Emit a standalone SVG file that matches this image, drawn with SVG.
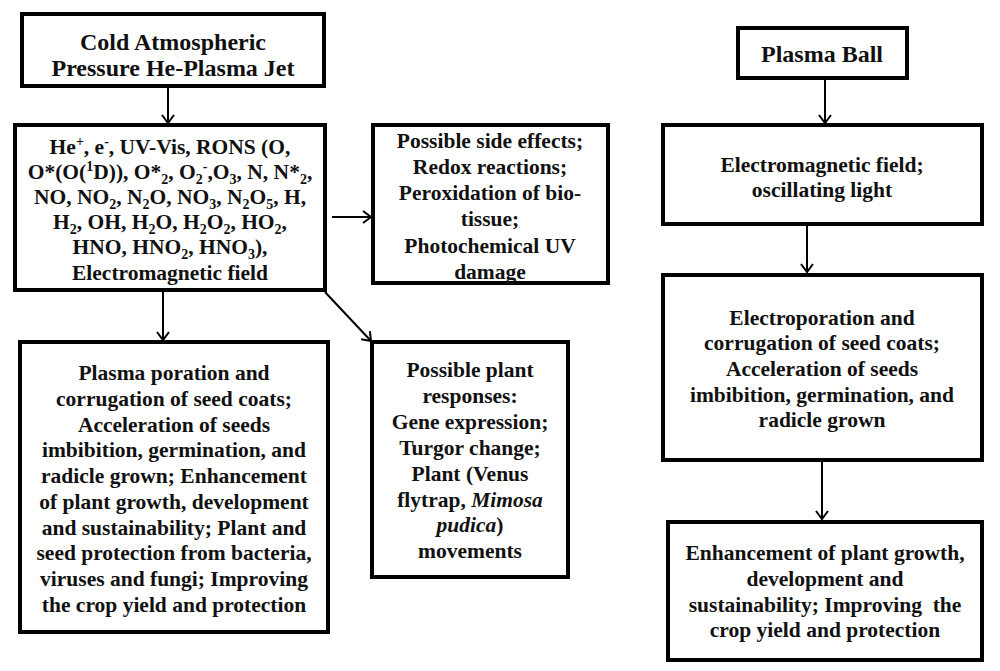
<svg xmlns="http://www.w3.org/2000/svg" width="1000" height="671" viewBox="0 0 1000 671">
<style>
.box{fill:#fff;stroke:#000;stroke-width:4}
.t{font-family:"Liberation Serif","Times New Roman",serif;font-weight:bold;font-size:21.5px;fill:#111;text-anchor:middle}
.h{font-size:24px}
.s{font-size:14px}
.c{stroke:#000;stroke-width:2;fill:none}
</style>
<defs>
<marker id="ah" markerUnits="userSpaceOnUse" markerWidth="14" markerHeight="14" refX="11" refY="7" orient="auto">
<path d="M3,1 L11,7 L3,13" fill="none" stroke="#000" stroke-width="2"/>
</marker>
</defs>
<rect width="1000" height="671" fill="#fff"/>
<g id="connectors">
<line class="c" x1="168" y1="87" x2="168" y2="123" marker-end="url(#ah)"/>
<line class="c" x1="332" y1="217" x2="371" y2="217" marker-end="url(#ah)"/>
<line class="c" x1="163" y1="291" x2="163" y2="340" marker-end="url(#ah)"/>
<line class="c" x1="325" y1="292" x2="371" y2="341" marker-end="url(#ah)"/>
<line class="c" x1="825" y1="79" x2="825" y2="123" marker-end="url(#ah)"/>
<line class="c" x1="807" y1="225" x2="807" y2="272" marker-end="url(#ah)"/>
<line class="c" x1="822" y1="461" x2="822" y2="519" marker-end="url(#ah)"/>
</g>
<g id="jet">
<rect class="box" x="22" y="14" width="302" height="72"/>
<text class="t h" x="173" y="50">Cold Atmospheric</text>
<text class="t h" x="173" y="76">Pressure He-Plasma Jet</text>
</g>
<g id="species">
<rect class="box" x="15" y="125" width="310" height="165"/>
<text class="t" x="170" y="154">He<tspan class="s" dy="-8">+</tspan><tspan dy="8">, e</tspan><tspan class="s" dy="-8">-</tspan><tspan dy="8">, UV-Vis, RONS (O,</tspan></text>
<text class="t" x="170" y="179">O*(O(<tspan class="s" dy="-8">1</tspan><tspan dy="8">D)), O*</tspan><tspan class="s" dy="5">2</tspan><tspan dy="-5">, O</tspan><tspan class="s" dy="5">2</tspan><tspan class="s" dy="-13">-</tspan><tspan dy="8">,O</tspan><tspan class="s" dy="5">3</tspan><tspan dy="-5">, N, N*</tspan><tspan class="s" dy="5">2</tspan><tspan dy="-5">,</tspan></text>
<text class="t" x="170" y="204">NO, NO<tspan class="s" dy="5">2</tspan><tspan dy="-5">, N</tspan><tspan class="s" dy="5">2</tspan><tspan dy="-5">O, NO</tspan><tspan class="s" dy="5">3</tspan><tspan dy="-5">, N</tspan><tspan class="s" dy="5">2</tspan><tspan dy="-5">O</tspan><tspan class="s" dy="5">5</tspan><tspan dy="-5">, H,</tspan></text>
<text class="t" x="170" y="229">H<tspan class="s" dy="5">2</tspan><tspan dy="-5">, OH, H</tspan><tspan class="s" dy="5">2</tspan><tspan dy="-5">O, H</tspan><tspan class="s" dy="5">2</tspan><tspan dy="-5">O</tspan><tspan class="s" dy="5">2</tspan><tspan dy="-5">, HO</tspan><tspan class="s" dy="5">2</tspan><tspan dy="-5">,</tspan></text>
<text class="t" x="170" y="254">HNO, HNO<tspan class="s" dy="5">2</tspan><tspan dy="-5">, HNO</tspan><tspan class="s" dy="5">3</tspan><tspan dy="-5">),</tspan></text>
<text class="t" x="170" y="280">Electromagnetic field</text>
</g>
<g id="side-effects">
<rect class="box" x="373" y="125" width="235" height="158"/>
<text class="t" x="490" y="148">Possible side effects;</text>
<text class="t" x="490" y="174">Redox reactions;</text>
<text class="t" x="490" y="200">Peroxidation of bio-</text>
<text class="t" x="490" y="226">tissue;</text>
<text class="t" x="490" y="253">Photochemical UV</text>
<text class="t" x="490" y="279">damage</text>
</g>
<g id="poration">
<rect class="box" x="20" y="342" width="308" height="290"/>
<text class="t" x="174" y="380">Plasma poration and</text>
<text class="t" x="174" y="406">corrugation of seed coats;</text>
<text class="t" x="174" y="432">Acceleration of seeds</text>
<text class="t" x="174" y="457">imbibition, germination, and</text>
<text class="t" x="174" y="483">radicle grown; Enhancement</text>
<text class="t" x="174" y="509">of plant growth, development</text>
<text class="t" x="174" y="535">and sustainability; Plant and</text>
<text class="t" x="174" y="560">seed protection from bacteria,</text>
<text class="t" x="174" y="586">viruses and fungi; Improving</text>
<text class="t" x="174" y="612">the crop yield and protection</text>
</g>
<g id="responses">
<rect class="box" x="372" y="342" width="196" height="235"/>
<text class="t" x="470" y="377">Possible plant</text>
<text class="t" x="470" y="403">responses:</text>
<text class="t" x="470" y="429">Gene expression;</text>
<text class="t" x="470" y="455">Turgor change;</text>
<text class="t" x="470" y="481">Plant (Venus</text>
<text class="t" x="470" y="507">flytrap, <tspan font-style="italic">Mimosa</tspan></text>
<text class="t" x="470" y="532"><tspan font-style="italic">pudica</tspan>)</text>
<text class="t" x="470" y="558">movements</text>
</g>
<g id="plasma-ball">
<rect class="box" x="738" y="28" width="169" height="50"/>
<text class="t h" x="822" y="62">Plasma Ball</text>
</g>
<g id="em-field">
<rect class="box" x="663" y="125" width="319" height="99"/>
<text class="t" x="822" y="172">Electromagnetic field;</text>
<text class="t" x="822" y="197">oscillating light</text>
</g>
<g id="electroporation">
<rect class="box" x="663" y="275" width="319" height="185"/>
<text class="t" x="822" y="325">Electroporation and</text>
<text class="t" x="822" y="350">corrugation of seed coats;</text>
<text class="t" x="822" y="376">Acceleration of seeds</text>
<text class="t" x="822" y="402">imbibition, germination, and</text>
<text class="t" x="822" y="427">radicle grown</text>
</g>
<g id="enhancement">
<rect class="box" x="668" y="522" width="314" height="138"/>
<text class="t" x="825" y="560">Enhancement of plant growth,</text>
<text class="t" x="825" y="586">development and</text>
<text class="t" x="825" y="612" xml:space="preserve">sustainability; Improving  the</text>
<text class="t" x="825" y="637">crop yield and protection</text>
</g>
</svg>
